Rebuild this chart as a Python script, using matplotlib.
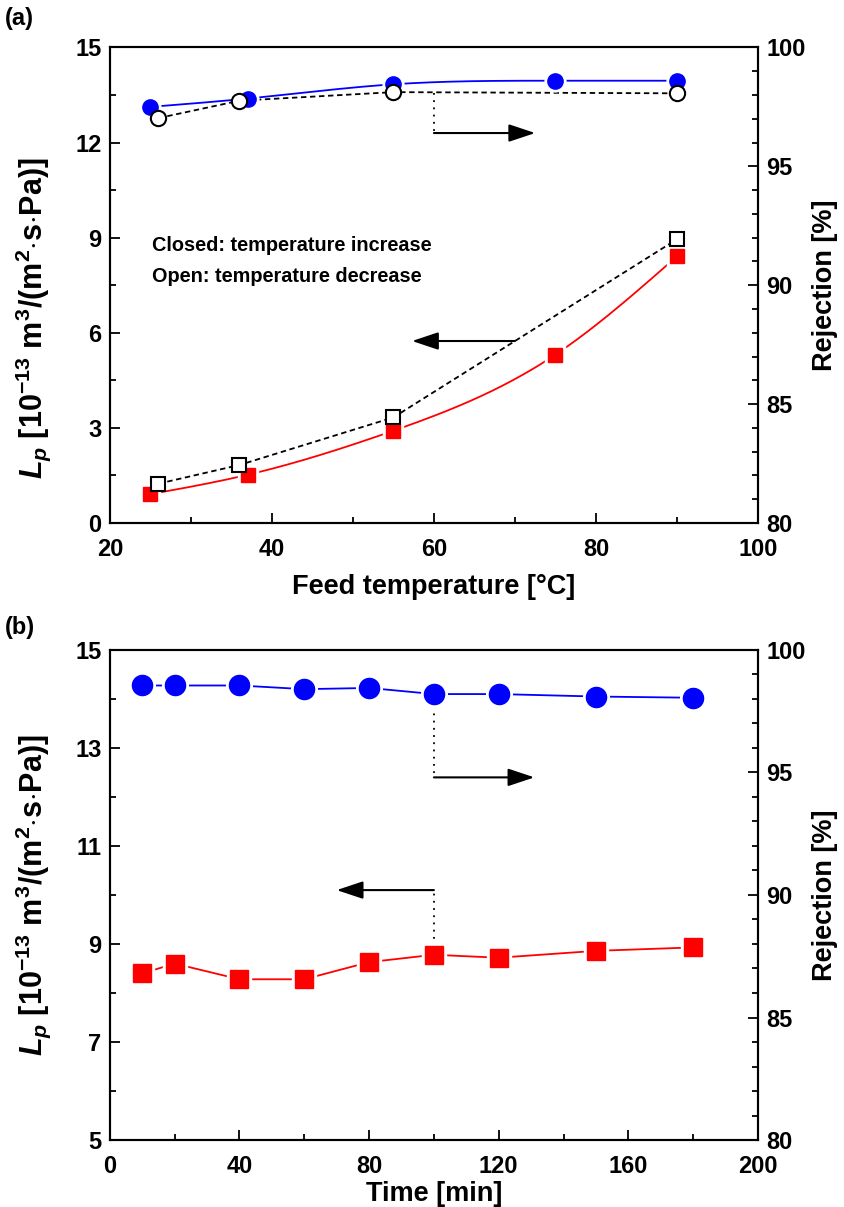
import numpy as np
import matplotlib
matplotlib.use('Agg')
import matplotlib.pyplot as plt
from matplotlib.ticker import MultipleLocator, FixedLocator

plt.rcParams['font.family'] = ['Liberation Sans', 'DejaVu Sans']
plt.rcParams['font.weight'] = 'bold'
plt.rcParams['mathtext.fontset'] = 'custom'
plt.rcParams['mathtext.rm'] = 'Liberation Sans:bold'
plt.rcParams['mathtext.it'] = 'Liberation Sans:italic:bold'
plt.rcParams['mathtext.bf'] = 'Liberation Sans:bold'

# (a) feed temperature series
temp_up = [25, 37, 55, 75, 90]
lp_up = [0.91, 1.52, 2.91, 5.31, 8.41]
rej_up = [97.5, 97.85, 98.45, 98.6, 98.6]
temp_down = [26, 36, 55, 90]
lp_down = [1.24, 1.83, 3.33, 8.95]
rej_down = [97.03, 97.76, 98.12, 98.07]

# (b) time series
time_min = [10, 20, 40, 60, 80, 100, 120, 150, 180]
lp_time = [8.40, 8.60, 8.28, 8.28, 8.63, 8.78, 8.72, 8.86, 8.93]
rej_time = [98.55, 98.55, 98.55, 98.4, 98.45, 98.2, 98.2, 98.1, 98.05]

RED = '#ff0000'
BLUE = '#0000ff'
TICKFS = 17
LABELFS = 19.5
LP_LABEL = r'$L_p$ [10$^{-13}$ m$^{3}$/(m$^{2}$$\cdot$s$\cdot$Pa)]'


def spline(x, y, n=200):
    # natural cubic spline through the points (Origin-like "spline" connect)
    x = np.asarray(x, float)
    y = np.asarray(y, float)
    k = len(x)
    h = np.diff(x)
    A = np.zeros((k, k))
    b = np.zeros(k)
    A[0, 0] = A[-1, -1] = 1
    for i in range(1, k - 1):
        A[i, i - 1] = h[i - 1]
        A[i, i] = 2 * (h[i - 1] + h[i])
        A[i, i + 1] = h[i]
        b[i] = 6 * ((y[i + 1] - y[i]) / h[i] - (y[i] - y[i - 1]) / h[i - 1])
    m = np.linalg.solve(A, b)
    xs = np.linspace(x[0], x[-1], n)
    idx = np.clip(np.searchsorted(x, xs) - 1, 0, k - 2)
    x0, x1 = x[idx], x[idx + 1]
    hh = x1 - x0
    t0, t1 = x1 - xs, xs - x0
    ys = (m[idx] * t0**3 + m[idx + 1] * t1**3) / (6 * hh) \
        + (y[idx] / hh - m[idx] * hh / 6) * t0 \
        + (y[idx + 1] / hh - m[idx + 1] * hh / 6) * t1
    return xs, ys


def closed(ax, x, y, marker, color, ms):
    # white halo gives the small gap between line and symbol
    ax.plot(x, y, ls='none', marker=marker, ms=ms + 4, mfc='white', mec='white', zorder=4)
    ax.plot(x, y, ls='none', marker=marker, ms=ms, mfc=color, mec=color, zorder=5)


def style(ax, ax2, label_y=0.5):
    for a in (ax, ax2):
        for s in a.spines.values():
            s.set_linewidth(1.5)
        a.tick_params(which='both', direction='in', width=1.3, labelsize=TICKFS)
        a.tick_params(which='major', length=7)
        a.tick_params(which='minor', length=4)
    ax.tick_params(which='both', top=False, right=False, pad=6)
    ax.tick_params(axis='x', which='both', pad=11)
    ax2.tick_params(which='both', left=False, top=False, bottom=False, pad=6)
    ax2.yaxis.set_major_locator(MultipleLocator(5))
    ax2.yaxis.set_minor_locator(MultipleLocator(1))
    ax2.set_ylim(80, 100)
    ax2.set_ylabel('Rejection [%]', fontsize=LABELFS, fontweight='bold')
    ax2.yaxis.set_label_coords(1.083, 0.5)
    ax.set_ylabel(LP_LABEL, fontsize=22, fontweight='bold')
    ax.yaxis.set_label_coords(-0.088, label_y)


fig = plt.figure(figsize=(8.45, 12.07), dpi=100)

# ---------- (a) ----------
ax = fig.add_axes([0.130, 0.5667, 0.767, 0.394])
ax2 = ax.twinx()
ax.set_xlim(20, 100)
ax.set_ylim(0, 15)
ax.xaxis.set_major_locator(MultipleLocator(20))
ax.xaxis.set_minor_locator(MultipleLocator(10))
ax.yaxis.set_major_locator(MultipleLocator(3))
ax.yaxis.set_minor_locator(MultipleLocator(1.5))
style(ax, ax2, 0.43)
ax.set_xlabel('Feed temperature [°C]', fontsize=LABELFS, fontweight='bold', labelpad=9)

xs, ys = spline(temp_up, lp_up)
ax.plot(xs, ys, color=RED, lw=1.3, zorder=2)
ax.plot(temp_down, lp_down, color='black', ls=(0, (3, 2)), lw=1.3, zorder=3)
closed(ax, temp_up, lp_up, 's', RED, 10.5)
ax.plot(temp_down, lp_down, ls='none', marker='s', ms=10.5, mfc='white', mec='black', mew=1.5, zorder=6)

xs, ys = spline(temp_up, rej_up)
ax2.plot(xs, ys, color=BLUE, lw=1.3, zorder=2)
ax2.plot(temp_down, rej_down, color='black', ls=(0, (3, 2)), lw=1.3, zorder=3)
closed(ax2, temp_up, rej_up, 'o', BLUE, 11)
ax2.plot(temp_down, rej_down, ls='none', marker='o', ms=11, mfc='white', mec='black', mew=1.5, zorder=6)

ax.text(25.2, 8.76, 'Closed: temperature increase', fontsize=14.3, fontweight='bold', va='center')
ax.text(25.2, 7.78, 'Open: temperature decrease', fontsize=14.3, fontweight='bold', va='center')

arrow = dict(arrowstyle='-|>,head_length=0.9,head_width=0.3', color='black', lw=1.5,
             shrinkA=0, shrinkB=0, mutation_scale=18)
ax2.plot([60, 60], [98.1, 96.4], color='black', ls=(0, (1, 3)), lw=1.3)
ax2.annotate('', xy=(72.5, 96.4), xytext=(60, 96.4), arrowprops=arrow)
ax.annotate('', xy=(57.3, 5.74), xytext=(70, 5.74), arrowprops=arrow)

fig.text(0.006, 0.985, '(a)', fontsize=17, fontweight='bold', va='center')

# ---------- (b) ----------
bx = fig.add_axes([0.130, 0.0555, 0.767, 0.406])
bx2 = bx.twinx()
bx.set_xlim(0, 200)
bx.set_ylim(5, 15)
bx.xaxis.set_major_locator(MultipleLocator(40))
bx.xaxis.set_minor_locator(MultipleLocator(20))
bx.yaxis.set_major_locator(FixedLocator(np.arange(5, 16, 2)))
bx.yaxis.set_minor_locator(MultipleLocator(1))
style(bx, bx2, 0.5)
bx.set_xlabel('Time [min]', fontsize=LABELFS, fontweight='bold', labelpad=2)

bx.plot(time_min, lp_time, color=RED, lw=1.3, zorder=2)
closed(bx, time_min, lp_time, 's', RED, 13)
bx2.plot(time_min, rej_time, color=BLUE, lw=1.3, zorder=2)
closed(bx2, time_min, rej_time, 'o', BLUE, 14.5)

bx2.plot([100, 100], [98.0, 94.8], color='black', ls=(0, (1, 3)), lw=1.3)
bx2.annotate('', xy=(131, 94.8), xytext=(100, 94.8), arrowprops=arrow)
bx.plot([100, 100], [8.95, 10.1], color='black', ls=(0, (1, 3)), lw=1.3)
bx.annotate('', xy=(70, 10.1), xytext=(100, 10.1), arrowprops=arrow)

fig.text(0.006, 0.4805, '(b)', fontsize=17, fontweight='bold', va='center')

fig.savefig('out.png', dpi=100)
